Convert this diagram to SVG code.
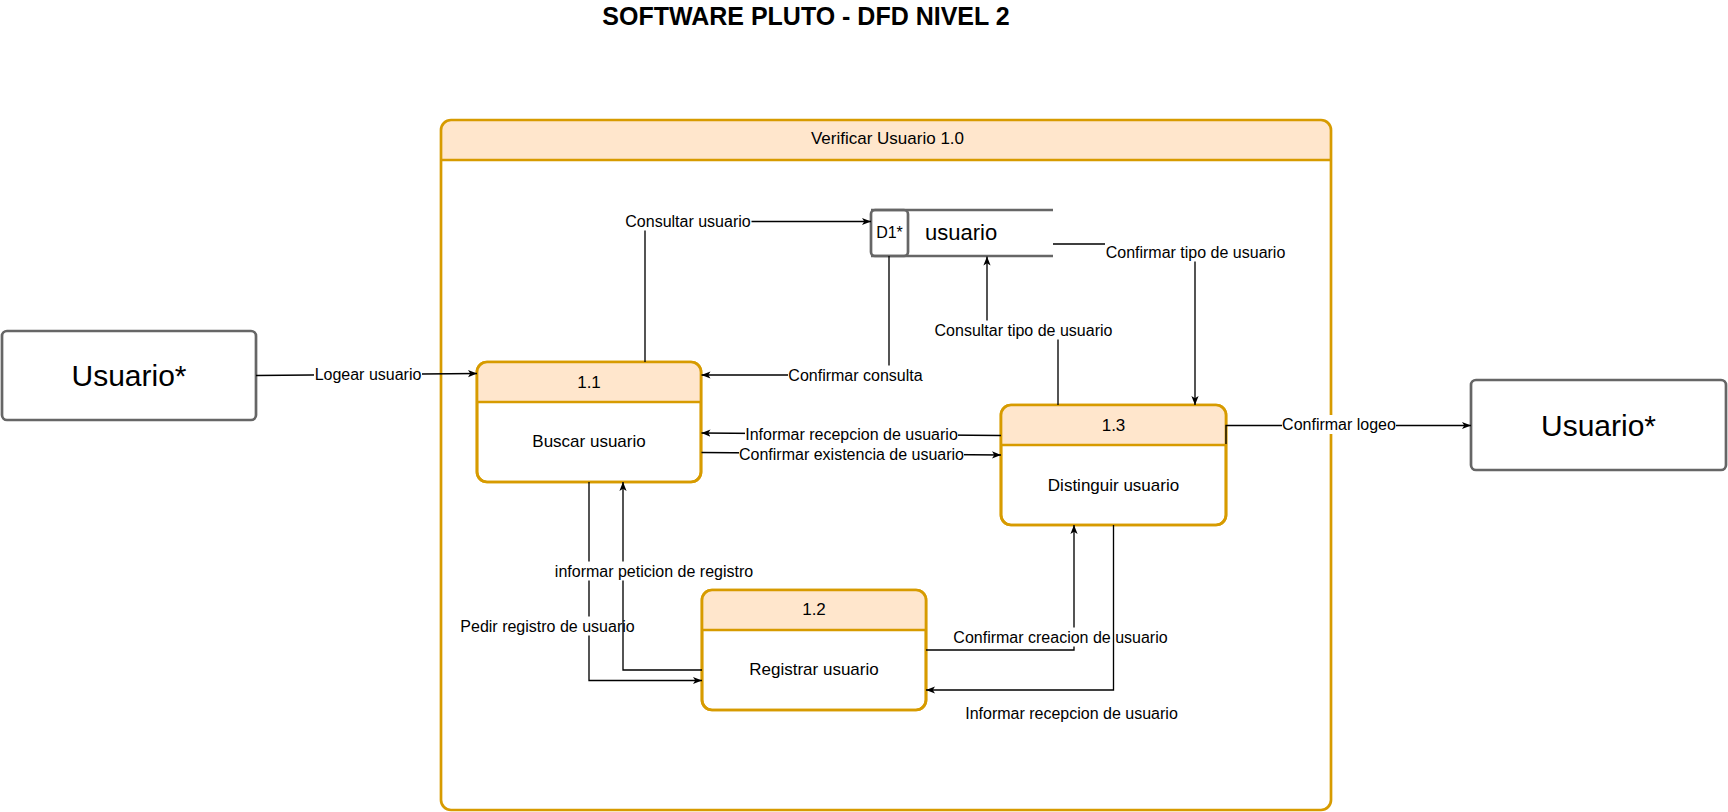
<svg xmlns="http://www.w3.org/2000/svg" width="1728" height="812" viewBox="0 0 1728 812">
<defs>
<marker id="arr" markerUnits="userSpaceOnUse" viewBox="0 0 10 10" markerWidth="9" markerHeight="9" refX="10" refY="5" orient="auto">
<path d="M0,1 L10,5 L0,9 L2.5,5 z" fill="#000"/>
</marker>
<style>
text{font-family:"Liberation Sans",Arial,Helvetica,sans-serif;fill:#000}
.t16{font-size:16px}
.t17{font-size:17px}
.mid{text-anchor:middle}
.ext{fill:#fff;stroke:#666;stroke-width:2.7}
.ds{fill:none;stroke:#666;stroke-width:2.7}
.pbody{fill:#fff;stroke:#d79b00;stroke-width:2.7}
.phead{fill:#ffe6cc;stroke:none}
.pline{stroke:#d79b00;stroke-width:2.7}
.e{fill:none;stroke:#000;stroke-width:1.33}
.ea{fill:none;stroke:#000;stroke-width:1.33;marker-end:url(#arr)}
.lb{fill:#fff}
</style>
</defs>
<rect width="1728" height="812" fill="#fff"/>
<text x="806" y="25" class="mid" style="font-size:25px;font-weight:bold">SOFTWARE PLUTO - DFD NIVEL 2</text>

<g id="container">
<rect x="441" y="120" width="890" height="690" rx="10" fill="#fff"/>
<path d="M441,160 V130 A10,10 0 0 1 451,120 H1321 A10,10 0 0 1 1331,130 V160 Z" class="phead"/>
<rect x="441" y="120" width="890" height="690" rx="10" fill="none" stroke="#d79b00" stroke-width="2.7"/>
<line x1="441" y1="160" x2="1331" y2="160" class="pline"/>
<text x="887.5" y="144" class="t17 mid">Verificar Usuario 1.0</text>
</g>

<g id="usuario-left">
<rect x="2" y="331" width="254" height="89" rx="5" class="ext"/>
<text x="129" y="386" class="mid" style="font-size:30px">Usuario*</text>
</g>

<g id="usuario-right">
<rect x="1471" y="380" width="255" height="90" rx="5" class="ext"/>
<text x="1598.5" y="436" class="mid" style="font-size:30px">Usuario*</text>
</g>

<g id="d1">
<line x1="871" y1="210" x2="1053" y2="210" class="ds"/>
<line x1="871" y1="256" x2="1053" y2="256" class="ds"/>
<rect x="871" y="210" width="37" height="46" rx="4" class="ds"/>
<text x="889.5" y="238" class="t16 mid">D1*</text>
<text x="925" y="239.5" style="font-size:22px">usuario</text>
</g>

<g id="p11">
<rect x="477" y="362" width="224" height="120" rx="10" class="pbody"/>
<path d="M477,402 V372 A10,10 0 0 1 487,362 H691 A10,10 0 0 1 701,372 V402 Z" class="phead"/>
<rect x="477" y="362" width="224" height="120" rx="10" fill="none" stroke="#d79b00" stroke-width="2.7"/>
<line x1="477" y1="402" x2="701" y2="402" class="pline"/>
<text x="589" y="387.5" class="t17 mid">1.1</text>
<text x="589" y="447" class="t17 mid">Buscar usuario</text>
</g>

<g id="p12">
<rect x="702" y="590" width="224" height="120" rx="10" class="pbody"/>
<path d="M702,630 V600 A10,10 0 0 1 712,590 H916 A10,10 0 0 1 926,600 V630 Z" class="phead"/>
<rect x="702" y="590" width="224" height="120" rx="10" fill="none" stroke="#d79b00" stroke-width="2.7"/>
<line x1="702" y1="630" x2="926" y2="630" class="pline"/>
<text x="814" y="615" class="t17 mid">1.2</text>
<text x="814" y="675" class="t17 mid">Registrar usuario</text>
</g>

<g id="p13">
<rect x="1001" y="405" width="225" height="120" rx="10" class="pbody"/>
<path d="M1001,445 V415 A10,10 0 0 1 1011,405 H1216 A10,10 0 0 1 1226,415 V445 Z" class="phead"/>
<rect x="1001" y="405" width="225" height="120" rx="10" fill="none" stroke="#d79b00" stroke-width="2.7"/>
<line x1="1001" y1="445" x2="1226" y2="445" class="pline"/>
<text x="1113.5" y="430.5" class="t17 mid">1.3</text>
<text x="1113.5" y="490.5" class="t17 mid">Distinguir usuario</text>
</g>

<g id="connectors">
<g id="e-logear">
<path d="M256,375.5 L477,373.5" class="ea"/>
<rect x="314" y="365" width="108" height="19" class="lb"/>
<text x="368" y="380" class="t16 mid">Logear usuario</text>
</g>
<g id="e-consultar">
<path d="M645,362 V221.5 H871" class="ea"/>
<rect x="624.5" y="211.5" width="127" height="19" class="lb"/>
<text x="688" y="226.7" class="t16 mid">Consultar usuario</text>
</g>
<g id="e-confconsulta">
<path d="M889,256 V375 H701.5" class="ea"/>
<rect x="788" y="365.5" width="135" height="19" class="lb"/>
<text x="855.5" y="380.7" class="t16 mid">Confirmar consulta</text>
</g>
<g id="e-informar-top">
<path d="M1001,435.5 L701.5,433" class="ea"/>
<rect x="745" y="425" width="213" height="19" class="lb"/>
<text x="851.5" y="440" class="t16 mid">Informar recepcion de usuario</text>
</g>
<g id="e-existencia">
<path d="M701.5,452.5 L1001,455" class="ea"/>
<rect x="739" y="445" width="225" height="19" class="lb"/>
<text x="851.5" y="460" class="t16 mid">Confirmar existencia de usuario</text>
</g>
<g id="e-consultartipo">
<path d="M1058,405 V330 H987 V256.5" class="ea"/>
<rect x="933.5" y="320.5" width="180" height="19" class="lb"/>
<text x="1023.5" y="335.5" class="t16 mid">Consultar tipo de usuario</text>
</g>
<g id="e-conftipo">
<path d="M1053,244 H1195 V405" class="ea"/>
<rect x="1105" y="242.5" width="181" height="19" class="lb"/>
<text x="1195.5" y="257.5" class="t16 mid">Confirmar tipo de usuario</text>
</g>
<g id="e-logeo">
<path d="M1226,444 V425.5 H1471" class="ea"/>
<rect x="1282" y="415" width="114" height="19" class="lb"/>
<text x="1339" y="430" class="t16 mid">Confirmar logeo</text>
</g>
<g id="e-pedir">
<path d="M589,482 V680.5 H702" class="ea"/>
<rect x="460.5" y="616.5" width="174" height="19" class="lb"/>
<text x="547.5" y="631.7" class="t16 mid">Pedir registro de usuario</text>
</g>
<g id="e-peticion">
<path d="M702,670 H623 V482" class="ea"/>
<rect x="554.5" y="561.5" width="199" height="19" class="lb"/>
<text x="654" y="576.7" class="t16 mid">informar peticion de registro</text>
</g>
<g id="e-creacion">
<path d="M926,650 H1074 V525" class="ea"/>
<rect x="953" y="627.5" width="215" height="19" class="lb"/>
<text x="1060.5" y="642.7" class="t16 mid">Confirmar creacion de usuario</text>
</g>
<g id="e-informar-bottom">
<path d="M1113.5,525 V690 H926" class="ea"/>
<rect x="964.5" y="704" width="214" height="19" class="lb"/>
<text x="1071.5" y="719" class="t16 mid">Informar recepcion de usuario</text>
</g>
</g>
</svg>
